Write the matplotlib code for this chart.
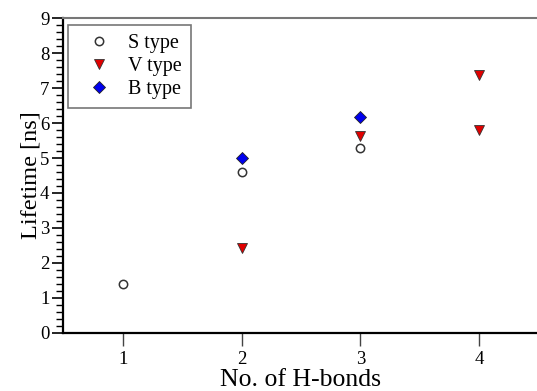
import matplotlib
matplotlib.use("Agg")
import matplotlib.pyplot as plt
from matplotlib.ticker import MultipleLocator

s_x = [1, 2, 3]
s_y = [1.40, 4.61, 5.29]
v_x = [2, 3, 4, 4]
v_y = [2.42, 5.63, 7.39, 5.80]
b_x = [2, 3]
b_y = [4.99, 6.18]
x_ticks = [1, 2, 3, 4]
y_ticks = [0, 1, 2, 3, 4, 5, 6, 7, 8, 9]

plt.rcParams['font.family'] = ['Liberation Serif', 'DejaVu Serif']

fig = plt.figure(figsize=(5.37, 3.91), dpi=100)
ax = fig.add_axes([63.3/537, 1-332.7/391, (538.5-63.3)/537, (332.7-18.3)/391])

ax.plot(s_x, s_y, linestyle='none', marker='o', markersize=6, markerfacecolor='white',
        markeredgecolor='#333333', markeredgewidth=1.1, label='S type')
ax.plot(v_x, v_y, linestyle='none', marker='v', markersize=7, markerfacecolor='#e00000',
        markeredgecolor='#333333', markeredgewidth=0.6, label='V type')
ax.plot(b_x, b_y, linestyle='none', marker='D', markersize=6, markerfacecolor='#0000ee',
        markeredgecolor='#222222', markeredgewidth=0.6, label='B type')

ax.set_xlim(0.5, 4.5)
ax.set_ylim(0, 9)
ax.set_xticks(x_ticks)
ax.set_yticks(y_ticks)
ax.yaxis.set_minor_locator(MultipleLocator(0.2))

ax.spines['right'].set_visible(False)
ax.spines['top'].set_color('#777777')
ax.spines['top'].set_linewidth(1.5)
ax.spines['left'].set_linewidth(1.6)
ax.spines['bottom'].set_linewidth(1.6)

ax.tick_params(axis='y', which='major', direction='out', length=8, width=1.2, labelsize=13.5, pad=2)
ax.tick_params(axis='y', which='minor', direction='out', length=5, width=1.0)
ax.tick_params(axis='x', which='major', direction='out', length=9, width=1.0, color='#444444',
               labelsize=13.5, pad=4)

ax.set_ylabel('Lifetime [ns]', fontsize=17.5, labelpad=-1)
ax.set_xlabel('No. of H-bonds', fontsize=18.5, labelpad=1)

leg = ax.legend(loc='upper left', bbox_to_anchor=(0.01, 0.979), fontsize=14.5, frameon=True,
                fancybox=False, edgecolor='#555555', handletextpad=0.35, borderpad=0.45,
                labelspacing=0.2, handlelength=2.2, borderaxespad=0)
leg.get_frame().set_linewidth(1.2)

fig.savefig('out.png', dpi=100)
